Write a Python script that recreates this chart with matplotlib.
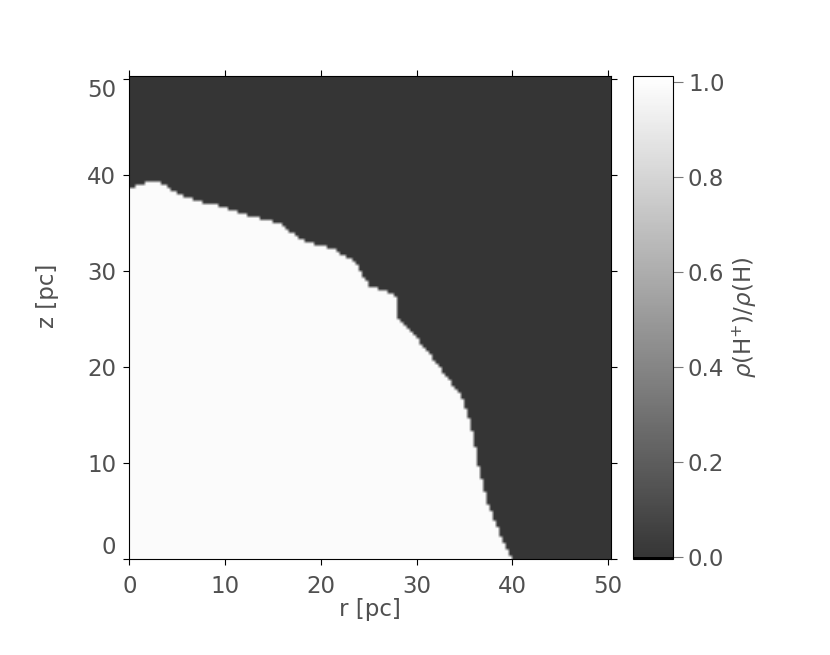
import numpy as np
import matplotlib
matplotlib.use('Agg')
import matplotlib.pyplot as plt
from matplotlib.colors import ListedColormap, Normalize
from matplotlib.path import Path

# ionisation front (r, z in pc)
front_r = [0.0, 1.3, 2.8, 3.6, 4.4, 6.9, 9.6, 12.7, 15.5, 18.1, 21.6, 23.7,
           25.0, 26.5, 27.8, 28.1, 30.2, 32.2, 34.6, 35.3, 35.6, 36.0, 36.4,
           37.4, 38.7, 40.0]
front_z = [38.4, 39.0, 39.3, 39.0, 38.3, 37.3, 36.7, 35.7, 35.0, 33.2, 32.1, 30.8,
           28.5, 28.0, 27.4, 24.9, 22.8, 20.2, 17.1, 15.3, 14.3, 12.5, 10.1,
           6.0, 2.6, 0.0]
ionised_value = 0.99
neutral_value = 0.002
r_max, z_max = 50.3, 50.25
n_cells = 151

axis_ticks = [0, 10, 20, 30, 40, 50]
cbar_ticks = [0.0, 0.2, 0.4, 0.6, 0.8, 1.0]

plt.rcParams['font.family'] = ['DejaVu Sans']
plt.rcParams['mathtext.fontset'] = 'dejavusans'
txt = '#505050'
fs = 16.5

# grid of cells, ionised inside the front
rc = (np.arange(n_cells) + 0.5) * r_max / n_cells
zc = (np.arange(n_cells) + 0.5) * z_max / n_cells
R, Z = np.meshgrid(rc, zc)
poly = Path([(0.0, 0.0)] + list(zip(front_r, front_z)) + [(0.0, 0.0)])
inside = poly.contains_points(np.column_stack([R.ravel(), Z.ravel()])).reshape(R.shape)
frac = np.where(inside, ionised_value, neutral_value)

grays = np.linspace(0.21, 1.0, 255)
cmap = ListedColormap([(0, 0, 0)] + [(g, g, g) for g in grays])
norm = Normalize(vmin=-0.004, vmax=1.013)

fig = plt.figure(figsize=(8.3, 6.55), dpi=100)
ax = fig.add_axes([0.1558, 0.1461, 0.5804, 0.7374])
cax = fig.add_axes([0.7630, 0.1461, 0.0475, 0.7374])

im = ax.imshow(frac, origin='lower', extent=(0, r_max, 0, z_max), cmap=cmap,
               norm=norm, interpolation='bilinear', aspect='auto')
ax.set_xlim(0, r_max)
ax.set_ylim(0, z_max)
ax.set_xticks(axis_ticks)
ax.set_yticks(axis_ticks)
ax.tick_params(direction='out', length=4.5, width=0.8, top=True, right=True,
               labelsize=fs, labelcolor=txt)
ax.tick_params(axis='x', pad=7)
ax.tick_params(axis='y', pad=5)
for s in ax.spines.values():
    s.set_linewidth(0.8)
ylabs = ax.get_yticklabels()
ylabs[0].set_va('bottom')
ylabs[-1].set_va('top')
ax.set_xlabel('r [pc]', fontsize=fs, color=txt, labelpad=0)
ax.set_ylabel('z [pc]', fontsize=fs, color=txt)
ax.yaxis.set_label_coords(-0.145, 0.545)

cb = fig.colorbar(im, cax=cax, ticks=cbar_ticks, format='%.1f')
cb.outline.set_linewidth(0.8)
cax.tick_params(direction='out', length=7, width=0.8, color='#777',
                labelsize=fs, labelcolor=txt, pad=4)
cb.set_label(r'$\rho$(H$^{+}$)/$\rho$(H)', fontsize=fs, color=txt, labelpad=4)

fig.savefig('out.png', dpi=100)
